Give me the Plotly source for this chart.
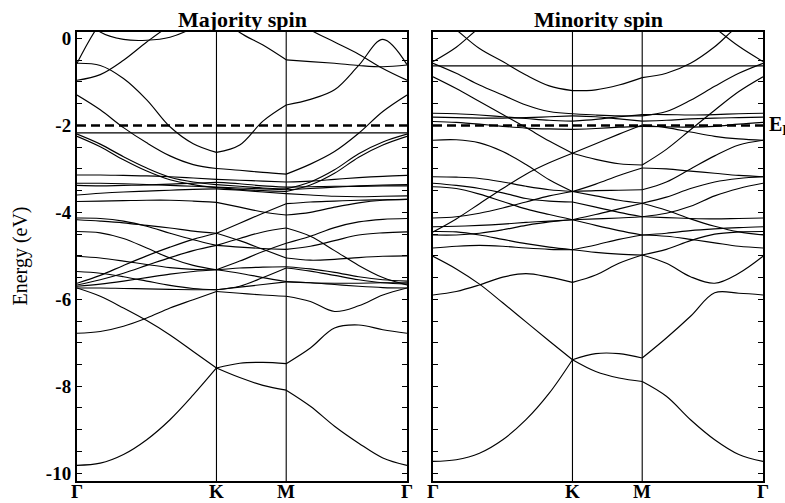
import numpy as np
import plotly.graph_objects as go

# ---------------- k-path Γ → K → M → Γ (hexagonal zone) ----------------
G0, K_PT, M_PT = 0.0, 4.0 / 3.0, 2.0
G1 = M_PT + 2.0 / np.sqrt(3.0)
N_GK, N_KM, N_MG = 6, 3, 5
k_grid = np.concatenate([
    np.linspace(G0, K_PT, N_GK + 1),
    np.linspace(K_PT, M_PT, N_KM + 1)[1:],
    np.linspace(M_PT, G1, N_MG + 1)[1:],
])
SEGMENTS = [(0, 7), (6, 10), (9, 15)]          # Γ-K, K-M, M-Γ slices
k_labels = ["Γ", "K", "M", "Γ"]
k_ticks = [G0, K_PT, M_PT, G1]

E_FERMI = -2.0
E_RANGE = [-10.18, 0.15]

# ---------------- majority-spin bands (eV) on k_grid ----------------
maj_u1 = [-0.57, 0.35, 0.9, 1.2, 1.3, 1.3, 1.2, 1.0, 0.8, 0.6, 0.2, -0.08, -0.36, -0.69, -0.96]
maj_u2 = [0.7, 0.15, -0.02, -0.04, 0.03, 0.25, 0.6, 0.14, -0.15, -0.49, -0.53, -0.57, -0.62, -0.65, -0.61]
maj_u3 = [-0.96, -0.83, -0.50, -0.08, 0.3, 0.6, 0.8, 0.9, 1.0, 1.0, 0.9, 0.8, 0.7, 0.6, 0.5]
maj_p = [-0.57, -0.62, -0.92, -1.41, -2.03, -2.42, -2.62, -2.45, -1.90, -1.53, -1.40, -1.18, -0.62, -0.02, -0.60]
maj_f = [-1.30, -1.64, -2.05, -2.40, -2.70, -2.90, -2.99, -3.03, -3.08, -3.12, -2.89, -2.60, -2.18, -1.68, -1.30]
maj_flat = [-2.17, -2.17, -2.17, -2.17, -2.17, -2.17, -2.17, -2.17, -2.17, -2.17, -2.17, -2.17, -2.17, -2.17, -2.17]
maj_pair1 = [-2.20, -2.43, -2.72, -2.98, -3.19, -3.30, -3.36, -3.40, -3.44, -3.46, -3.30, -3.02, -2.65, -2.38, -2.20]
maj_pair2 = [-2.25, -2.49, -2.79, -3.05, -3.25, -3.36, -3.43, -3.47, -3.50, -3.52, -3.37, -3.10, -2.73, -2.45, -2.25]
maj_h1 = [-3.14, -3.14, -3.15, -3.16, -3.18, -3.21, -3.24, -3.26, -3.28, -3.30, -3.28, -3.24, -3.20, -3.17, -3.15]
maj_h2 = [-3.33, -3.33, -3.34, -3.36, -3.38, -3.40, -3.42, -3.44, -3.46, -3.48, -3.45, -3.42, -3.39, -3.37, -3.36]
maj_h3 = [-3.38, -3.39, -3.38, -3.37, -3.35, -3.33, -3.31, -3.34, -3.39, -3.42, -3.41, -3.40, -3.40, -3.39, -3.39]
maj_h4 = [-3.60, -3.56, -3.53, -3.51, -3.49, -3.47, -3.46, -3.49, -3.53, -3.57, -3.60, -3.63, -3.64, -3.63, -3.62]
maj_h5 = [-3.75, -3.74, -3.73, -3.72, -3.72, -3.74, -3.77, -3.88, -3.99, -4.06, -4.00, -3.88, -3.78, -3.72, -3.70]
maj_m1 = [-4.13, -4.14, -4.20, -4.32, -4.48, -4.63, -4.76, -4.80, -4.83, -4.85, -4.78, -4.65, -4.52, -4.47, -4.45]
maj_m2 = [-4.17, -4.20, -4.24, -4.30, -4.36, -4.43, -4.48, -4.65, -4.85, -5.05, -5.10, -5.08, -5.04, -5.01, -5.00]
maj_m3 = [-4.44, -4.47, -4.60, -4.82, -5.05, -5.22, -5.32, -5.40, -5.50, -5.59, -5.62, -5.63, -5.63, -5.62, -5.62]
maj_m4 = [-5.01, -5.05, -5.12, -5.20, -5.27, -5.31, -5.32, -5.12, -4.90, -4.71, -4.55, -4.35, -4.22, -4.16, -4.14]
maj_m5 = [-5.36, -5.40, -5.48, -5.58, -5.68, -5.75, -5.78, -5.70, -5.50, -5.28, -5.35, -5.45, -5.55, -5.62, -5.65]
maj_m6 = [-5.63, -5.45, -5.22, -5.00, -4.80, -4.62, -4.48, -4.25, -4.02, -3.80, -3.76, -3.74, -3.72, -3.71, -3.70]
maj_m7 = [-5.67, -5.55, -5.40, -5.22, -5.04, -4.88, -4.76, -4.60, -4.45, -4.36, -4.55, -4.88, -5.22, -5.50, -5.67]
maj_m8 = [-5.70, -5.65, -5.58, -5.50, -5.42, -5.36, -5.32, -5.28, -5.26, -5.25, -5.30, -5.38, -5.48, -5.55, -5.58]
maj_m9 = [-5.74, -5.74, -5.75, -5.76, -5.77, -5.78, -5.78, -5.72, -5.66, -5.60, -5.62, -5.66, -5.70, -5.73, -5.74]
maj_c1 = [-9.82, -9.77, -9.57, -9.23, -8.77, -8.20, -7.58, -7.47, -7.45, -7.48, -7.12, -6.66, -6.59, -6.70, -6.78]
maj_c2 = [-6.78, -6.74, -6.62, -6.43, -6.20, -6.01, -5.82, -5.86, -5.90, -5.93, -6.05, -6.28, -6.15, -5.90, -5.74]
maj_c3 = [-5.74, -5.93, -6.20, -6.49, -6.82, -7.20, -7.58, -7.80, -7.98, -8.09, -8.46, -8.92, -9.31, -9.65, -9.82]

majority_bands = [
    maj_u1, maj_u2, maj_u3, maj_p, maj_f, maj_flat, maj_pair1, maj_pair2,
    maj_h1, maj_h2, maj_h3, maj_h4, maj_h5,
    maj_m1, maj_m2, maj_m3, maj_m4, maj_m5, maj_m6, maj_m7, maj_m8, maj_m9,
    maj_c1, maj_c2, maj_c3,
]

# ---------------- minority-spin bands (eV) on k_grid ----------------
min_n1 = [-0.53, -0.20, 0.25, 0.6, 0.9, 1.1, 1.2, 1.2, 1.1, 1.0, 0.9, 0.7, 0.25, -0.18, -0.53]
min_n2 = [0.6, 0.2, -0.23, -0.53, -0.84, -1.09, -1.20, -1.18, -1.07, -0.90, -0.80, -0.57, -0.19, 0.3, 0.6]
min_n3 = [-0.63, -0.63, -0.63, -0.63, -0.63, -0.63, -0.63, -0.63, -0.63, -0.63, -0.63, -0.63, -0.63, -0.63, -0.63]
min_n4 = [-0.57, -0.80, -1.07, -1.30, -1.53, -1.68, -1.73, -1.76, -1.78, -1.78, -1.68, -1.42, -1.10, -0.80, -0.57]
min_n5 = [-0.88, -1.15, -1.45, -1.75, -2.05, -2.36, -2.64, -2.78, -2.88, -2.91, -2.55, -2.10, -1.65, -1.22, -0.88]
min_n6 = [-1.72, -1.73, -1.76, -1.80, -1.84, -1.88, -1.90, -1.86, -1.80, -1.75, -1.75, -1.76, -1.75, -1.73, -1.72]
min_n7 = [-1.81, -1.82, -1.83, -1.83, -1.82, -1.80, -1.78, -1.80, -1.85, -1.90, -1.88, -1.85, -1.83, -1.82, -1.81]
min_n8 = [-1.91, -1.93, -1.97, -2.02, -2.06, -2.08, -2.09, -2.07, -2.04, -2.02, -2.03, -2.04, -2.02, -1.97, -1.93]
min_p1 = [-4.45, -4.15, -3.80, -3.45, -3.12, -2.86, -2.64, -2.42, -2.20, -1.99, -2.05, -2.15, -2.25, -2.31, -2.34]
min_p3 = [-2.34, -2.33, -2.40, -2.60, -2.90, -3.25, -3.52, -3.50, -3.49, -3.48, -3.30, -3.00, -2.70, -2.45, -2.34]
min_p4 = [-3.18, -3.19, -3.22, -3.30, -3.40, -3.48, -3.52, -3.62, -3.72, -3.79, -3.65, -3.45, -3.30, -3.22, -3.18]
min_p5 = [-3.33, -3.38, -3.45, -3.55, -3.68, -3.74, -3.76, -3.88, -4.00, -4.10, -4.02, -3.86, -3.62, -3.45, -3.33]
min_p6 = [-4.13, -4.10, -4.02, -3.90, -3.76, -3.62, -3.52, -3.35, -3.15, -2.98, -3.00, -3.05, -3.10, -3.15, -3.18]
min_p7 = [-4.33, -4.32, -4.30, -4.27, -4.23, -4.20, -4.17, -4.15, -4.13, -4.10, -4.12, -4.14, -4.15, -4.14, -4.13]
min_p8 = [-4.52, -4.52, -4.48, -4.40, -4.30, -4.22, -4.17, -4.05, -3.92, -3.79, -3.95, -4.15, -4.32, -4.45, -4.52]
min_p9 = [-4.82, -4.78, -4.76, -4.78, -4.82, -4.85, -4.86, -4.75, -4.62, -4.52, -4.55, -4.62, -4.70, -4.78, -4.82]
min_p10 = [-3.41, -3.45, -3.58, -3.75, -3.92, -4.05, -4.17, -4.30, -4.42, -4.52, -4.48, -4.42, -4.38, -4.35, -4.33]
min_p11 = [-4.44, -4.45, -4.52, -4.62, -4.72, -4.80, -4.86, -4.92, -4.96, -4.98, -4.85, -4.65, -4.50, -4.45, -4.44]
min_o1 = [-9.73, -9.69, -9.54, -9.23, -8.77, -8.16, -7.39, -7.25, -7.25, -7.35, -6.89, -6.39, -5.85, -5.86, -5.90]
min_o2 = [-5.01, -5.30, -5.65, -6.08, -6.52, -6.96, -7.39, -7.66, -7.81, -7.89, -8.23, -8.77, -9.23, -9.57, -9.73]
min_o3 = [-5.90, -5.82, -5.67, -5.49, -5.41, -5.49, -5.61, -5.44, -5.17, -4.98, -5.17, -5.48, -5.63, -5.40, -5.01]

minority_bands = [
    min_n1, min_n2, min_n3, min_n4, min_n5, min_n6, min_n7, min_n8,
    min_p1, min_p3, min_p4, min_p5, min_p6, min_p7, min_p8, min_p9, min_p10, min_p11,
    min_o1, min_o2, min_o3,
]

# y ticks every 0.5 eV, labelled every 2 eV
y_tickvals = [-10.0 + 0.5 * i for i in range(21)]
y_ticktext = [("%d" % v) if (abs(v - round(v)) < 1e-9 and int(round(v)) % 2 == 0) else " " for v in y_tickvals]

SERIF = "Liberation Serif"
W, H = 785, 503
M_T, M_B = 32, 22
LEFT_DOM = [77 / W, 407 / W]
RIGHT_DOM = [433 / W, 763 / W]


def band_path(bands):
    """Concatenate bands, each split at the high-symmetry points."""
    xs, ys = [], []
    for band in bands:
        for a, b in SEGMENTS:
            xs.extend(k_grid[a:b].tolist())
            ys.extend(band[a:b])
            xs.append(None)
            ys.append(None)
    return xs, ys


fig = go.Figure()
for bands, xa, ya in [(majority_bands, "x", "y"), (minority_bands, "x2", "y2")]:
    xs, ys = band_path(bands)
    fig.add_trace(go.Scatter(
        x=xs, y=ys, mode="lines", xaxis=xa, yaxis=ya,
        line=dict(color="black", width=1.15, shape="spline", smoothing=1.0),
        hoverinfo="skip", showlegend=False, connectgaps=False,
    ))
    # Fermi level
    fig.add_trace(go.Scatter(
        x=[G0, G1], y=[E_FERMI, E_FERMI], mode="lines", xaxis=xa, yaxis=ya,
        line=dict(color="black", width=2.6, dash="9px,5px"),
        hoverinfo="skip", showlegend=False,
    ))

shapes = []
for xr, yr in [("x", "y"), ("x2", "y2")]:
    for kv in (K_PT, M_PT):
        shapes.append(dict(type="line", xref=xr, yref=yr + " domain", x0=kv, x1=kv, y0=0, y1=1,
                           line=dict(color="black", width=1.1), layer="above"))

xaxis_common = dict(range=[G0, G1], showgrid=False, zeroline=False, showline=True, linecolor="black",
                    linewidth=2, mirror=True, ticks="", showticklabels=False, fixedrange=True)
yaxis_common = dict(range=E_RANGE, showgrid=False, zeroline=False, showline=True, linecolor="black",
                    linewidth=2, mirror="ticks", ticks="inside", ticklen=5, tickwidth=1, tickcolor="black",
                    tickmode="array", tickvals=y_tickvals, ticktext=y_ticktext, fixedrange=True)

fig.update_layout(
    width=W, height=H,
    margin=dict(l=0, r=0, t=M_T, b=M_B),
    paper_bgcolor="white", plot_bgcolor="white",
    xaxis=dict(domain=LEFT_DOM, anchor="y", **xaxis_common),
    xaxis2=dict(domain=RIGHT_DOM, anchor="y2", **xaxis_common),
    yaxis=dict(domain=[0, 1], anchor="x", showticklabels=True,
               tickfont=dict(family=SERIF, size=19, color="black", weight="bold"), **yaxis_common),
    yaxis2=dict(domain=[0, 1], anchor="x2", showticklabels=False, **yaxis_common),
    shapes=shapes,
)

annotations = []
# panel titles
for text, dom in [("Majority spin", LEFT_DOM), ("Minority spin", RIGHT_DOM)]:
    annotations.append(dict(text="<b>%s</b>" % text, xref="paper", yref="paper",
                            x=(dom[0] + dom[1]) / 2, y=1.0, xanchor="center", yanchor="bottom",
                            yshift=-2, showarrow=False, font=dict(family=SERIF, size=22, color="black")))
# high-symmetry point labels
for xr in ("x", "x2"):
    for kv, lab in zip(k_ticks, k_labels):
        annotations.append(dict(text="<b>%s</b>" % lab, xref=xr, yref="paper", x=kv, y=-0.024,
                                xanchor="center", yanchor="middle", showarrow=False,
                                font=dict(family=SERIF, size=19, color="black")))
# axis title
annotations.append(dict(text="Energy (eV)", xref="paper", yref="paper", x=20 / W, y=0.5,
                        xanchor="center", yanchor="middle", textangle=-90, showarrow=False,
                        font=dict(family=SERIF, size=20, color="black")))
# Fermi level tag
annotations.append(dict(text="<b>E<sub>F</sub></b>", xref="paper", yref="y2", x=767 / W, y=E_FERMI,
                        xanchor="left", yanchor="middle", showarrow=False,
                        font=dict(family=SERIF, size=20, color="black")))
fig.update_layout(annotations=annotations)

fig.write_html("out.html")
